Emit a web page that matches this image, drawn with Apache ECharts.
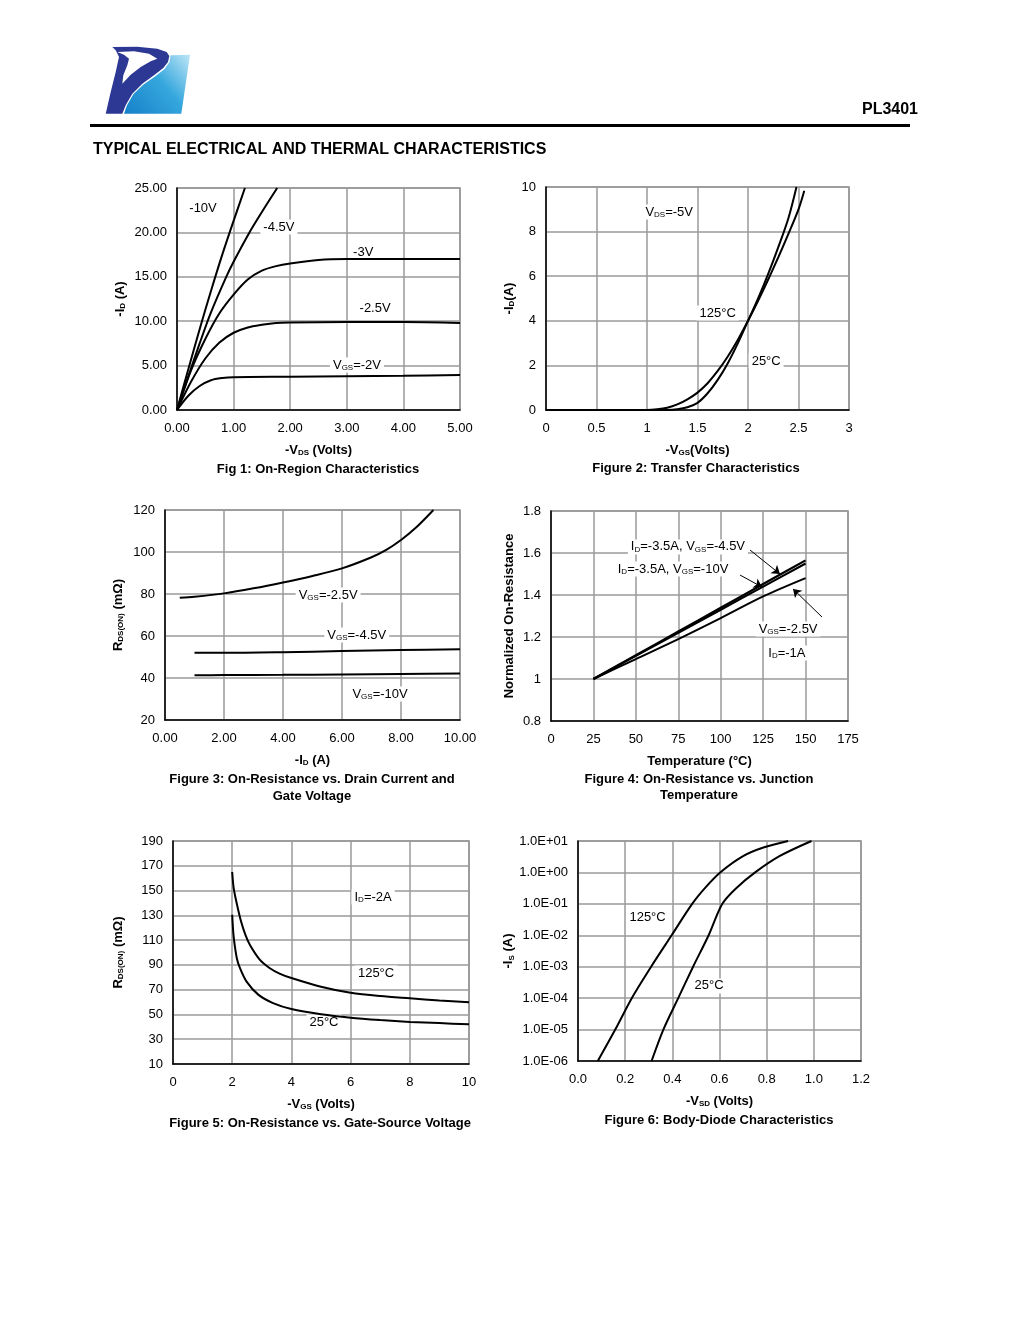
<!DOCTYPE html>
<html><head><meta charset="utf-8">
<script src="https://cdn.jsdelivr.net/npm/echarts@6/dist/echarts.min.js"></script>
<style>html,body{margin:0;padding:0;background:#fff}#c{width:1020px;height:1320px}</style>
</head><body><div id="c"></div>
<script>
// ---------- Fig 1: On-Region Characteristics (-VDS, -ID) ----------
const f1_vgs10  = [[0,0],[0.2,4.6],[0.4,9.1],[0.6,13.4],[0.8,17.5],[1.0,21.3],[1.2,25]];
const f1_vgs45  = [[0,0],[0.2,3.8],[0.4,7.5],[0.6,11.0],[0.87,15],[1.0,16.7],[1.28,20],[1.5,22.3],[1.77,25]];
const f1_vgs3   = [[0,0],[0.25,4.5],[0.5,8],[0.75,10.9],[1.0,13.0],[1.25,14.7],[1.5,15.7],[1.75,16.2],[2.0,16.5],[2.5,16.9],[3,17.0],[4,17.0],[5,17.0]];
const f1_vgs25  = [[0,0],[0.25,3.2],[0.5,5.8],[0.75,7.6],[1.0,8.7],[1.25,9.3],[1.5,9.6],[1.75,9.8],[2,9.85],[3,9.9],[4,9.9],[5,9.8]];
const f1_vgs2   = [[0,0],[0.2,1.6],[0.4,2.7],[0.6,3.35],[0.8,3.6],[1.0,3.7],[2,3.75],[3,3.8],[4,3.85],[5,3.95]];
const f1_notes  = [[0.46,22.7,'-10V'],[1.80,20.6,'-4.5V'],[3.29,17.8,'-3V'],[3.5,11.4,'-2.5V'],[3.18,5.07,'V{s|GS}=-2V']];

// ---------- Fig 2: Transfer Characteristics (-VGS, -ID) ----------
const f2_t125 = [[0,0],[1.0,0],[1.1,0.03],[1.2,0.1],[1.3,0.25],[1.4,0.48],[1.5,0.78],[1.6,1.2],[1.7,1.75],[1.8,2.4],[1.9,3.15],[2.0,4.0],[2.1,4.9],[2.2,5.85],[2.3,6.85],[2.4,7.9],[2.5,9.0],[2.557,9.83]];
const f2_t25  = [[0,0],[1.2,0],[1.3,0.03],[1.4,0.12],[1.5,0.32],[1.6,0.75],[1.7,1.35],[1.8,2.1],[1.9,3.0],[2.0,4.0],[2.1,5.0],[2.2,6.1],[2.3,7.3],[2.4,8.6],[2.48,10.0]];
const f2_notes = [[1.22,8.88,'V{s|DS}=-5V'],[1.70,4.35,'125°C'],[2.18,2.2,'25°C']];

// ---------- Fig 3: RDS(ON) vs -ID ----------
const f3_vgs25 = [[0.5,78.2],[1,78.7],[2,80.3],[3,82.7],[4,85.5],[5,88.6],[6,92.2],[7,97.5],[7.5,101],[8,105.7],[8.5,111.5],[9.1,120]];
const f3_vgs45 = [[1,52],[2,52],[4,52.3],[6,52.8],[8,53.3],[10,53.7]];
const f3_vgs10 = [[1,41.3],[2,41.4],[4,41.5],[6,41.7],[8,41.9],[10,42.1]];
const f3_notes = [[5.53,79.5,'V{s|GS}=-2.5V'],[6.5,60.5,'V{s|GS}=-4.5V'],[7.29,32.4,'V{s|GS}=-10V']];

// ---------- Fig 4: Normalized On-Resistance vs Temperature ----------
const f4_vgs45 = [[25,1.0],[50,1.113],[75,1.226],[100,1.339],[125,1.452],[150,1.565]];
const f4_vgs10 = [[25,1.0],[50,1.11],[75,1.22],[100,1.33],[125,1.44],[150,1.55]];
const f4_vgs25 = [[25,1.0],[50,1.095],[75,1.19],[100,1.29],[125,1.393],[150,1.48]];
const f4_notes = [[80.7,1.629,'I{s|D}=-3.5A, V{s|GS}=-4.5V'],[71.9,1.524,'I{s|D}=-3.5A, V{s|GS}=-10V'],[139.7,1.238,'V{s|GS}=-2.5V'],[139,1.124,'I{s|D}=-1A']];
const f4_arrows = [[117.3,1.614,134.9,1.50],[111.4,1.495,124.3,1.438],[159.7,1.295,142.6,1.429]];

// ---------- Fig 5: RDS(ON) vs -VGS ----------
const f5_t125 = [[2.0,165],[2.05,152],[2.15,140],[2.3,125],[2.45,114],[2.6,106],[2.93,94.2],[3.26,87.5],[3.6,83],[4,79.4],[5,72.4],[6,67.5],[7,64.8],[8,63],[9,61.3],[10,59.8]];
const f5_t25  = [[2.0,130.5],[2.04,115],[2.09,105],[2.16,95],[2.26,87.5],[2.48,76.7],[2.88,66],[3.38,59.2],[4,54.4],[5,50.2],[6,47.4],[7,45.5],[8,44],[9,43],[10,42]];
const f5_notes = [[6.76,144.8,'I{s|D}=-2A'],[6.86,83.4,'125°C'],[5.1,43.9,'25°C']];

// ---------- Fig 6: Body-Diode Characteristics ----------
const f6_t125 = [[0.084,1e-6],[0.158,1e-5],[0.228,1e-4],[0.31,1e-3],[0.397,1e-2],[0.484,1e-1],[0.54,0.33],[0.603,1],[0.70,3.3],[0.786,6.2],[0.891,10]];
const f6_t25  = [[0.312,1e-6],[0.362,1e-5],[0.425,1e-4],[0.488,1e-3],[0.554,1e-2],[0.612,0.1],[0.672,0.32],[0.751,1],[0.856,3.34],[0.99,10]];
const f6_notes = [[0.295,0.037,'125°C'],[0.556,2.45e-4,'25°C']];

const FONT = '"Liberation Sans", Arial, Helvetica, sans-serif';
const SUB = { s: { fontSize: 8, fontFamily: FONT, verticalAlign: 'bottom', color: '#000' } };
const SUBB = { s: { fontSize: 8, fontFamily: FONT, fontWeight: 'bold', verticalAlign: 'bottom', color: '#000' } };

const grids = [
  { left: 177, top: 188, width: 283, height: 222 },
  { left: 546, top: 187, width: 303, height: 223 },
  { left: 165, top: 510, width: 295, height: 210 },
  { left: 551, top: 511, width: 297, height: 210 },
  { left: 173, top: 841, width: 296, height: 223 },
  { left: 578, top: 841, width: 283, height: 220 }
].map(g => Object.assign({ show: true, borderColor: '#8c8c8c', borderWidth: 1.5, backgroundColor: 'transparent', containLabel: false }, g));

function xAx(i, min, max, interval, name, fmt) {
  return {
    type: 'value', gridIndex: i, min, max, interval,
    name, nameLocation: 'middle', nameGap: 34,
    nameTextStyle: { fontFamily: FONT, fontSize: 13, fontWeight: 'bold', color: '#000', rich: SUBB },
    axisLine: { show: true, onZero: false, lineStyle: { color: '#000', width: 1.5 } },
    axisTick: { show: false },
    axisLabel: { show: true, margin: 12, fontFamily: FONT, fontSize: 13, color: '#000', formatter: fmt, showMinLabel: true, showMaxLabel: true },
    splitLine: { show: true, lineStyle: { color: '#9a9a9a', width: 1.5 } }
  };
}
function yAx(i, min, max, interval, name, gap, fmt, type) {
  const a = {
    type: type || 'value', gridIndex: i, min, max,
    name, nameLocation: 'middle', nameGap: gap, nameRotate: 90,
    nameTextStyle: { fontFamily: FONT, fontSize: 13, fontWeight: 'bold', color: '#000', rich: SUBB },
    axisLine: { show: true, onZero: false, lineStyle: { color: '#000', width: 1.5 } },
    axisTick: { show: false },
    axisLabel: { show: true, margin: 10, fontFamily: FONT, fontSize: 13, color: '#000', formatter: fmt, showMinLabel: true, showMaxLabel: true },
    splitLine: { show: true, lineStyle: { color: '#9a9a9a', width: 1.5 } }
  };
  if (type === 'log') { a.logBase = 10; a.splitNumber = 7; } else { a.interval = interval; }
  return a;
}
const f2 = v => v.toFixed(2);
const f1d = v => v.toFixed(1);
const sci = v => { const e = Math.round(Math.log10(v)); return '1.0E' + (e < 0 ? '-' : '+') + String(Math.abs(e)).padStart(2, '0'); };

const xAxes = [
  xAx(0, 0, 5, 1, '-V{s|DS} (Volts)', f2),
  xAx(1, 0, 3, 0.5, '-V{s|GS}(Volts)'),
  xAx(2, 0, 10, 2, '-I{s|D} (A)', f2),
  xAx(3, 0, 175, 25, 'Temperature (°C)'),
  xAx(4, 0, 10, 2, '-V{s|GS} (Volts)'),
  xAx(5, 0, 1.2, 0.2, '-V{s|SD} (Volts)', f1d)
];
const yAxes = [
  yAx(0, 0, 25, 5, '-I{s|D} (A)', 50, f2),
  yAx(1, 0, 10, 2, '-I{s|D}(A)', 30),
  yAx(2, 20, 120, 20, 'R{s|DS(ON)} (mΩ)', 40),
  yAx(3, 0.8, 1.8, 0.2, 'Normalized On-Resistance', 35),
  yAx(4, 10, 190, 20, 'R{s|DS(ON)} (mΩ)', 48),
  yAx(5, 1e-6, 10, null, '-I{s|S} (A)', 62, sci, 'log')
];

function curve(i, data, width) {
  return { type: 'line', xAxisIndex: i, yAxisIndex: i, data, showSymbol: false, symbol: 'none',
    smooth: 0.3, z: 3, silent: true, animation: false,
    lineStyle: { color: '#000', width: width || 2 } };
}
function notes(i, items, arrows) {
  const s = { type: 'scatter', xAxisIndex: i, yAxisIndex: i, symbolSize: 0, z: 1, silent: true, animation: false,
    itemStyle: { color: '#000', opacity: 1 },
    data: items.map(n => ({ value: [n[0], n[1]], label: { formatter: n[2] } })),
    label: { show: true, position: 'inside', color: '#000', opacity: 1, fontFamily: FONT, fontSize: 13,
      backgroundColor: '#fff', padding: [1, 3], rich: SUB } };
  if (arrows) {
    s.markLine = { silent: true, animation: false, symbol: ['none', 'arrow'], symbolSize: 8,
      label: { show: false }, lineStyle: { color: '#000', width: 1, type: 'solid', opacity: 1 },
      data: arrows.map(a => [{ coord: [a[0], a[1]] }, { coord: [a[2], a[3]] }]) };
  }
  return s;
}

const series = [
  curve(0, f1_vgs10), curve(0, f1_vgs45), curve(0, f1_vgs3), curve(0, f1_vgs25), curve(0, f1_vgs2), notes(0, f1_notes),
  curve(1, f2_t125), curve(1, f2_t25), notes(1, f2_notes),
  curve(2, f3_vgs25), curve(2, f3_vgs45), curve(2, f3_vgs10), notes(2, f3_notes),
  curve(3, f4_vgs45, 2.2), curve(3, f4_vgs10, 2.2), curve(3, f4_vgs25, 2), notes(3, f4_notes, f4_arrows),
  curve(4, f5_t125), curve(4, f5_t25), notes(4, f5_notes),
  curve(5, f6_t125), curve(5, f6_t25), notes(5, f6_notes)
];

function txt(x, y, text, font, align) {
  return { type: 'text', silent: true, style: { x, y, text, font, fill: '#000', align: align || 'center', textAlign: align || 'center', verticalAlign: 'middle', textVerticalAlign: 'middle' } };
}
const CAP = 'bold 13px ' + FONT;
const graphic = [
  // logo: light-blue parallelogram
  { type: 'polygon', silent: true, shape: { points: [[170.5,55.3],[190,54.8],[181.3,113.7],[124,113.7],[127,105.3],[133.5,94],[143.5,84.5],[155,76.5],[164.5,69],[169.5,62]] },
    style: { fill: { type: 'linear', x: 0, y: 1, x2: 1, y2: 0, colorStops: [{ offset: 0, color: '#1580c8' }, { offset: 0.55, color: '#35a7dd' }, { offset: 1, color: '#bde6f7' }] } } },
  // logo: dark-blue P body
  { type: 'polygon', silent: true, shape: { points: [[112.3,47],[137.3,46.7],[157.3,48.7],[166.7,52],[169.3,56],[168,62],[163.3,68],[154,75.3],[142.3,83.7],[132.3,93.7],[125.7,105.3],[122.3,113.7],[105.7,113.7],[110.7,92],[115.7,72],[119,57],[115.7,50.3]] },
    style: { fill: '#2c3894' } },
  // logo: white swoosh counter
  { type: 'polygon', silent: true, shape: { points: [[117.3,52],[134,51.3],[149,53.7],[157.3,58.7],[150.7,61.3],[140.7,67],[130.7,74.7],[122.3,83.7],[123.3,75.3],[127.3,65.3],[129,58.7],[124,54.7]] },
    style: { fill: '#ffffff' } },
  txt(918, 110, 'PL3401', 'bold 16px ' + FONT, 'right'),
  { type: 'rect', silent: true, shape: { x: 90, y: 124, width: 820, height: 3 }, style: { fill: '#000' } },
  txt(93, 150, 'TYPICAL ELECTRICAL AND THERMAL CHARACTERISTICS', 'bold 16px ' + FONT, 'left'),
  txt(318, 469, 'Fig 1: On-Region Characteristics', CAP),
  txt(696, 468, 'Figure 2: Transfer Characteristics', CAP),
  txt(312, 779, 'Figure 3: On-Resistance vs. Drain Current and', CAP),
  txt(312, 796, 'Gate Voltage', CAP),
  txt(699, 779, 'Figure 4: On-Resistance vs. Junction', CAP),
  txt(699, 795, 'Temperature', CAP),
  txt(320, 1123, 'Figure 5: On-Resistance vs. Gate-Source Voltage', CAP),
  txt(719, 1120, 'Figure 6: Body-Diode Characteristics', CAP)
];

const chart = echarts.init(document.getElementById('c'), null, { renderer: 'canvas' });
chart.setOption({
  backgroundColor: '#fff',
  animation: false,
  textStyle: { fontFamily: FONT },
  grid: grids, xAxis: xAxes, yAxis: yAxes, series, graphic
});
</script></body></html>
